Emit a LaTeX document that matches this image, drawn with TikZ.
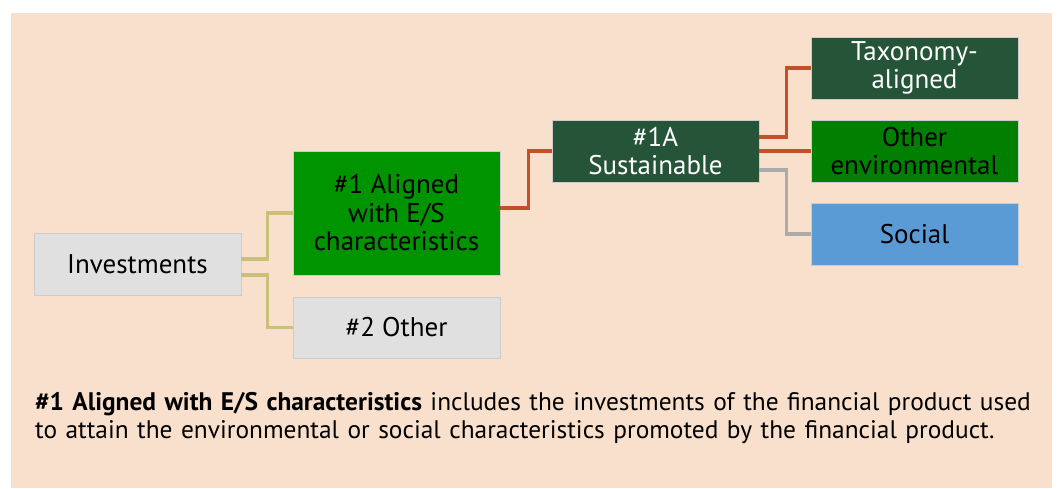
\documentclass[tikz,border=0pt]{standalone}
\usepackage{fontspec}
\setmainfont{PT Sans}
\usetikzlibrary{calc}
\definecolor{peach}{HTML}{F9E0CD}
\definecolor{boxgrey}{HTML}{E0E0E0}
\definecolor{brightgreen}{HTML}{009400}
\definecolor{darkgreen}{HTML}{265439}
\definecolor{midgreen}{HTML}{007F00}
\definecolor{socblue}{HTML}{5B9BD5}
\definecolor{khaki}{HTML}{C9C07A}
\definecolor{rust}{HTML}{C4502A}
\definecolor{linegrey}{HTML}{ABABAB}
\tikzset{
  box/.style={draw=black!20, line width=0.8pt, minimum width=207pt, minimum height=62pt,
    inner sep=0pt, align=center, font=\fontsize{27}{28.5}\selectfont},
  greybox/.style={box, fill=boxgrey},
  darkbox/.style={box, fill=darkgreen, text=white},
  link/.style={line width=3.5pt, line join=miter}
}
\begin{document}
\begin{tikzpicture}[x=1pt, y=-1pt]
  \useasboundingbox (0,0) rectangle (1059,488);
  \fill[peach] (11,13) rectangle (1052,488);
  % boxes
  \node[greybox] (inv) at (137.5,264.5) {Investments};
  \node[box, fill=brightgreen, minimum height=124pt] (al) at (396.5,213) {\#1 Aligned\\with E/S\\characteristics};
  \node[greybox, minimum height=61pt] (oth) at (396.5,327.5) {\#2 Other};
  \node[darkbox] (sus) at (655.5,151) {\#1A\\Sustainable};
  \node[darkbox] (tax) at (914.5,68) {Taxonomy-\\aligned};
  \node[box, fill=midgreen] (env) at (914.5,151) {Other\\environmental};
  \node[box, fill=socblue] (soc) at (914.5,234) {Social};
  % connectors
  \draw[link, khaki] ([yshift=5.5pt]inv.east) -- ++(26,0) |- (al.west);
  \draw[link, khaki] ([yshift=-10.5pt]inv.east) -- ++(26,0) |- (oth.west);
  \draw[link, rust] ([yshift=5pt]al.east) -- ++(28,0) |- (sus.west);
  \draw[link, rust] ([yshift=14pt]sus.east) -- ++(27,0) |- (tax.west);
  \draw[link, rust] (sus.east) -- (env.west);
  \draw[link, linegrey] ([yshift=-19pt]sus.east) -- ++(27,0) |- (soc.west);
  % caption
  \node[anchor=north west, inner sep=0pt, text width=1010pt, align=left,
    font=\fontsize{25.4}{28.5}\selectfont] (note) at (35,392)
    {\textbf{\#1 Aligned with E/S characteristics} includes the investments of the financial product used\\
     to attain the environmental or social characteristics promoted by the financial product.};
\end{tikzpicture}
\end{document}
